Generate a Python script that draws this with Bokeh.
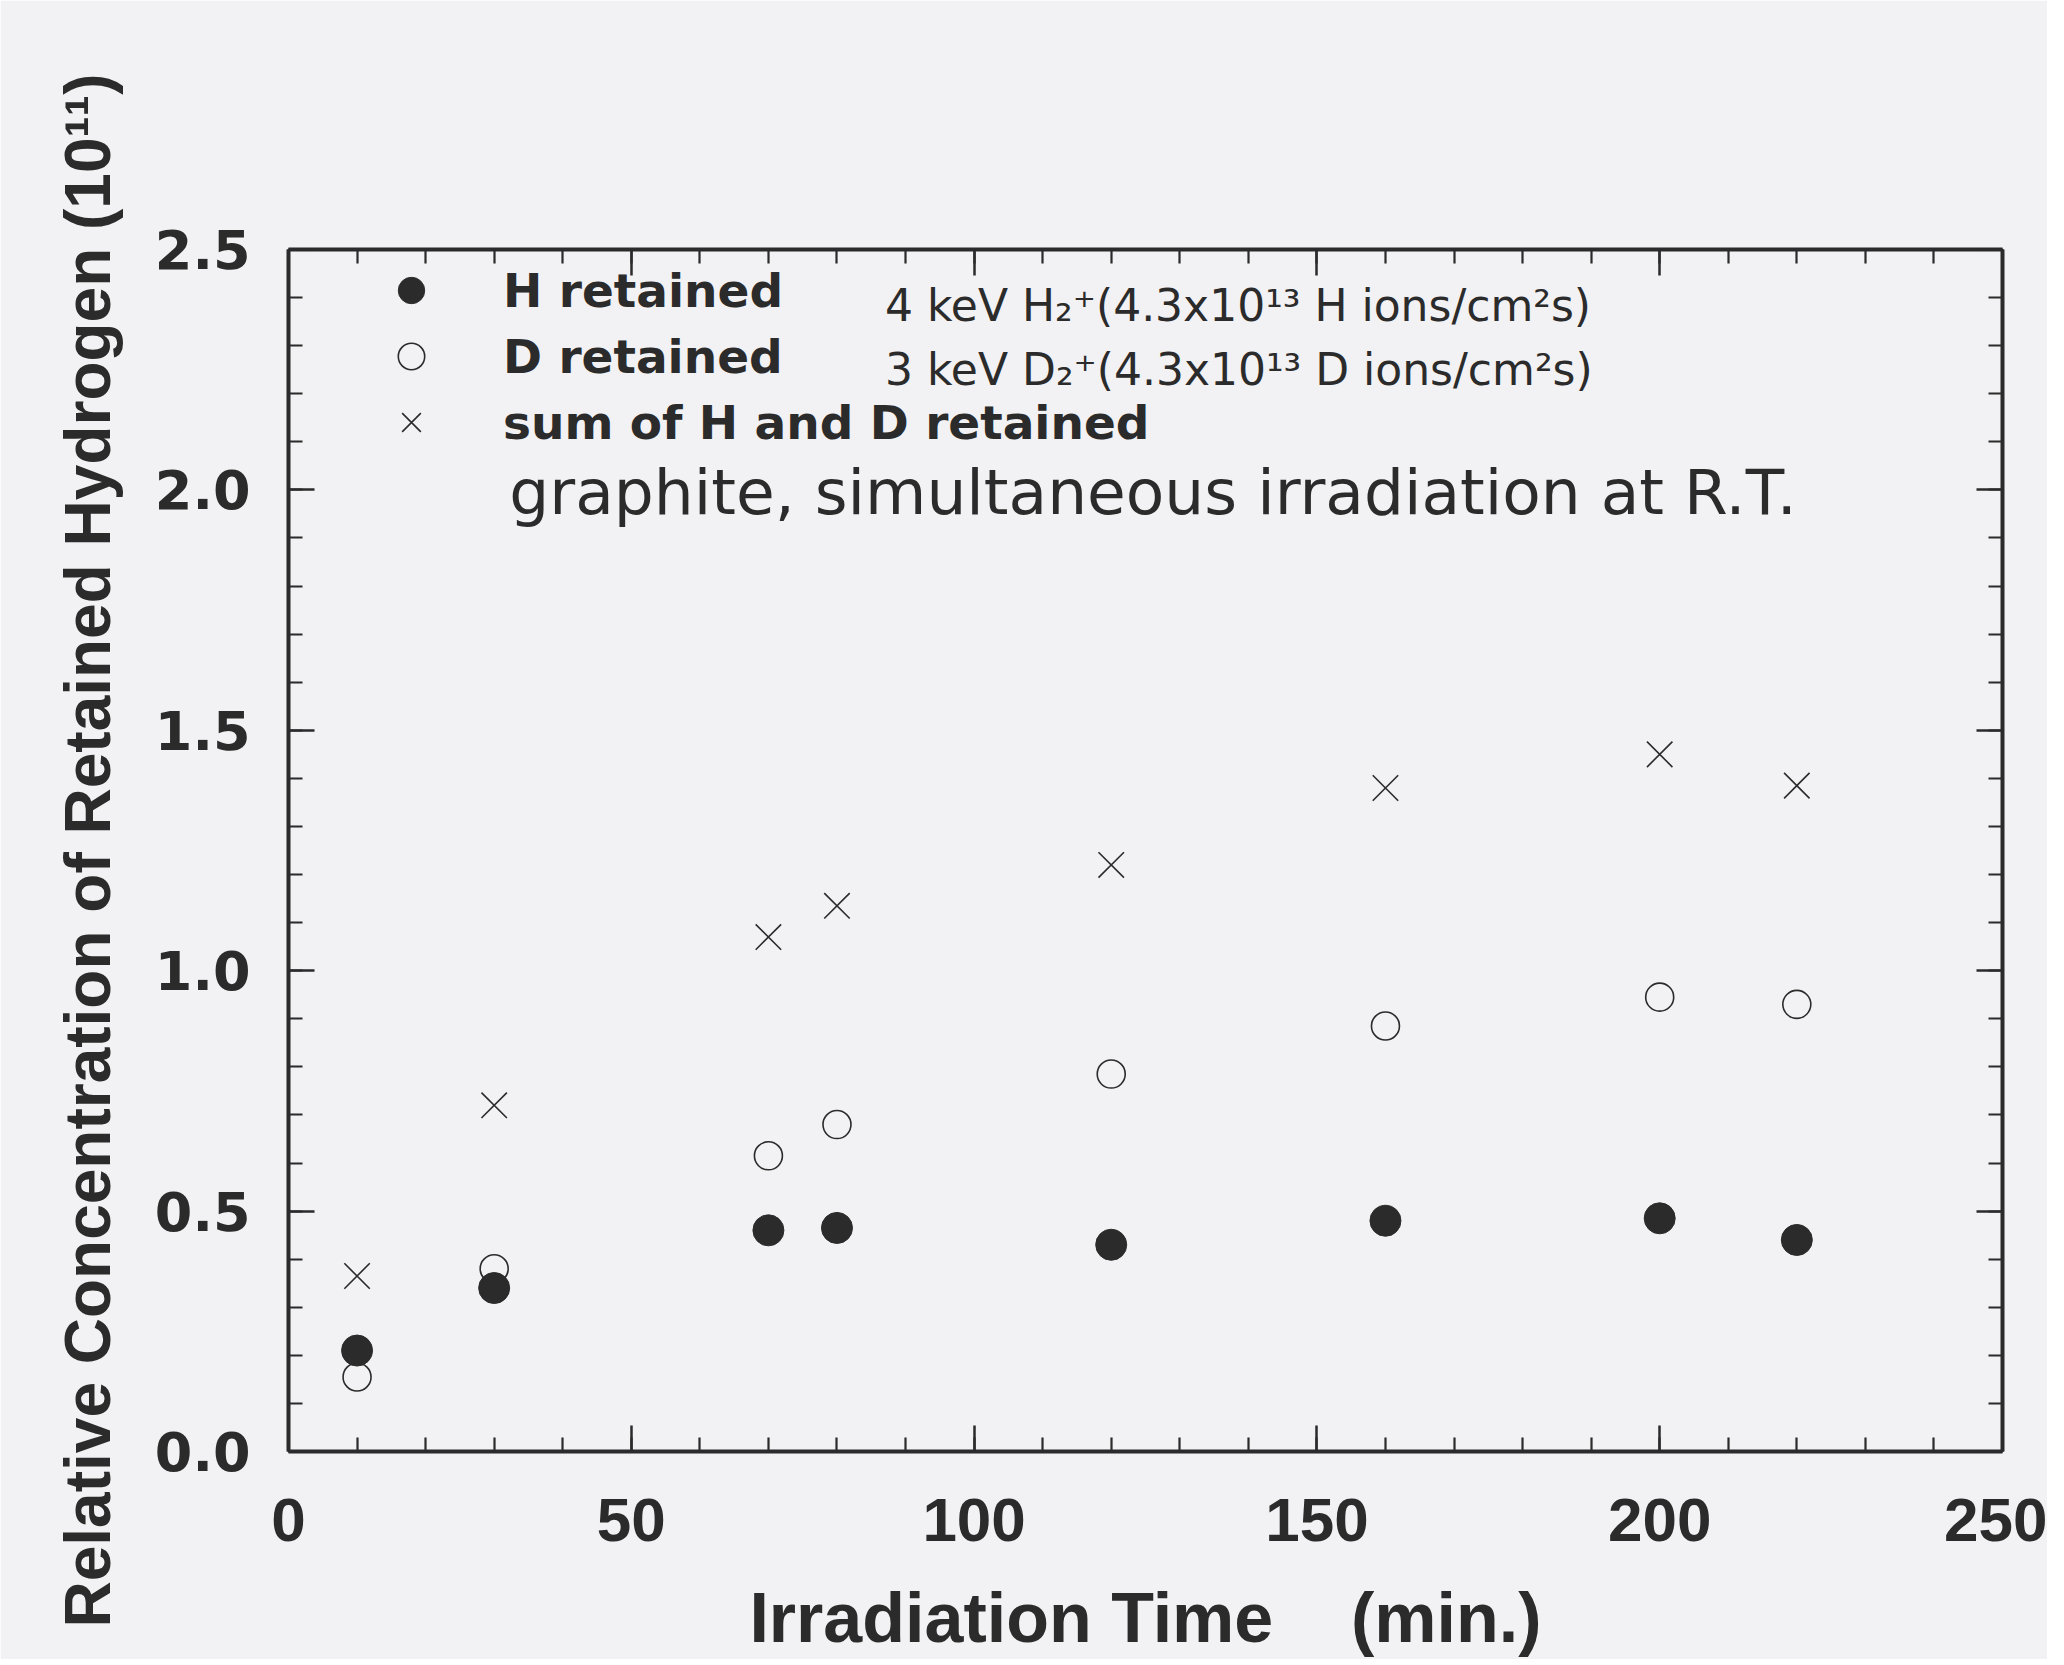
from bokeh.plotting import figure
from bokeh.models import (LinearAxis, FixedTicker, Range1d, Label, Legend, LegendItem,
                          NumeralTickFormatter, CustomJSTickFormatter)
from bokeh.embed import file_html
from bokeh.resources import INLINE

# ---- data ----
time_min = [10, 30, 70, 80, 120, 160, 200, 220]
h_retained = [0.21, 0.34, 0.46, 0.465, 0.43, 0.48, 0.485, 0.44]
d_retained = [0.155, 0.38, 0.615, 0.68, 0.785, 0.885, 0.945, 0.93]
sum_retained = [0.365, 0.72, 1.07, 1.135, 1.22, 1.38, 1.45, 1.385]

x_major_ticks = [0, 50, 100, 150, 200, 250]
x_minor_ticks = [t for t in range(0, 251, 10)]
y_major_ticks = [0.0, 0.5, 1.0, 1.5, 2.0, 2.5]
y_minor_ticks = [i / 10 for i in range(0, 26)]

series_names = ["H retained", "D retained", "sum of H and D retained"]
beam_notes = ["4 keV H\u2082\u207a(4.3x10\u00b9\u00b3 H ions/cm\u00b2s)",
              "3 keV D\u2082\u207a(4.3x10\u00b9\u00b3 D ions/cm\u00b2s)"]
condition_note = "graphite, simultaneous irradiation at R.T."
x_title = "Irradiation Time\u00a0\u00a0\u00a0\u00a0(min.)"
y_title = "Relative Concentration of Retained Hydrogen (10\u00b9\u00b9)"

INK = "#2b2b2b"
BG = "#f2f1f3"
FONT = "Liberation Sans"

p = figure(frame_width=1714, frame_height=1202,
           x_range=Range1d(0, 250), y_range=Range1d(0, 2.5),
           output_backend="svg", toolbar_location=None,
           min_border_left=288, min_border_right=45,
           min_border_top=249, min_border_bottom=200,
           background_fill_color=BG, border_fill_color=BG)
p.outline_line_color = None
p.grid.visible = False

r_h = p.scatter(time_min, h_retained, marker="circle", size=31,
                fill_color=INK, line_color=INK, line_width=1)
r_d = p.scatter(time_min, d_retained, marker="circle", size=28,
                fill_color=None, line_color=INK, line_width=1.6)
r_s = p.scatter(time_min, sum_retained, marker="x", size=36,
                line_color=INK, line_width=1.6)

def style_axis(ax, ticks, minor, show_labels):
    ax.ticker = FixedTicker(ticks=ticks, minor_ticks=minor)
    ax.axis_line_width = 4
    ax.axis_line_color = INK
    ax.major_tick_line_color = INK
    ax.minor_tick_line_color = INK
    ax.major_tick_line_width = 2.5
    ax.minor_tick_line_width = 2.2
    ax.major_tick_in = 26
    ax.major_tick_out = 0
    ax.minor_tick_in = 14
    ax.minor_tick_out = 0
    if not show_labels:
        ax.formatter = CustomJSTickFormatter(code="return ''")
        ax.major_label_standoff = 0

xb = p.xaxis[0]
style_axis(xb, x_major_ticks, x_minor_ticks, True)
xb.major_label_text_font = FONT
xb.major_label_text_font_style = "bold"
xb.major_label_text_font_size = "62px"
xb.major_label_text_color = INK
xb.major_label_standoff = 47
xb.axis_label = x_title
xb.axis_label_text_font = FONT
xb.axis_label_text_font_style = "bold"
xb.axis_label_text_font_size = "70px"
xb.axis_label_text_color = INK
xb.axis_label_standoff = 35

yl = p.yaxis[0]
style_axis(yl, y_major_ticks, y_minor_ticks, True)
yl.formatter = NumeralTickFormatter(format="0.0")
yl.major_label_text_font = "DejaVu Sans"
yl.major_label_text_font_style = "bold"
yl.major_label_text_font_size = "54px"
yl.major_label_text_color = INK
yl.major_label_standoff = 38
yl.axis_label = y_title
yl.axis_label_text_font = FONT
yl.axis_label_text_font_style = "bold"
yl.axis_label_text_font_size = "64px"
yl.axis_label_text_color = INK
yl.axis_label_standoff = 28

yr = LinearAxis()
style_axis(yr, y_major_ticks, y_minor_ticks, False)
p.add_layout(yr, "right")
xt = LinearAxis()
style_axis(xt, x_major_ticks, x_minor_ticks, False)
p.add_layout(xt, "above")

legend = Legend(items=[LegendItem(label=series_names[0], renderers=[r_h]),
                       LegendItem(label=series_names[1], renderers=[r_d]),
                       LegendItem(label=series_names[2], renderers=[r_s])],
                location=(87, 996), orientation="vertical",
                glyph_width=72, glyph_height=66, spacing=0, padding=0, margin=0,
                label_standoff=56, label_text_font="DejaVu Sans",
                label_text_font_style="bold",
                label_text_font_size="47px", label_text_color=INK,
                label_text_baseline="middle",
                background_fill_alpha=0, border_line_color=None)
p.add_layout(legend, "center")

for yv, txt in zip([2.383, 2.251], beam_notes):
    p.add_layout(Label(x=87.0, y=yv, text=txt, text_font="DejaVu Sans",
                       text_font_size="44px", text_color=INK,
                       text_baseline="middle"))
p.add_layout(Label(x=32.2, y=1.995, text=condition_note, text_font="DejaVu Sans",
                   text_font_size="63px", text_color=INK,
                   text_baseline="middle"))

open("out.html", "w").write(file_html(p, INLINE))
